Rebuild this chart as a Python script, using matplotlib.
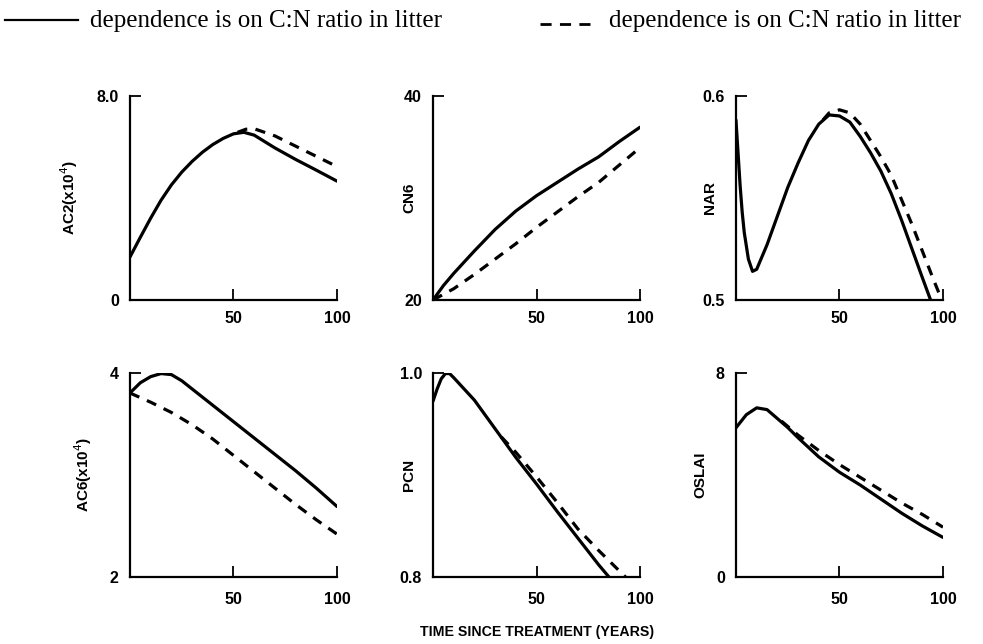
"""Six-panel response of stand variables to time since treatment.

Solid lines and dashed lines compare the two litter C:N formulations.
"""

import matplotlib.pyplot as plt

TICK_FONT = {"family": "Liberation Sans", "size": 11.5, "weight": "bold"}
LEGEND_FONT = {"family": "Liberation Serif", "size": 18}

# AC2 (x10^4)
ac2_solid_x = [0, 5, 10, 15, 20, 25, 30, 35, 40, 45, 50, 55, 60, 70, 80, 90, 100]
ac2_solid_y = [1.68, 2.45, 3.2, 3.9, 4.5, 5.0, 5.42, 5.78, 6.08, 6.32, 6.5,
               6.56, 6.45, 5.95, 5.5, 5.08, 4.65]
ac2_dash_x = [52, 56, 60, 70, 80, 90, 100]
ac2_dash_y = [6.56, 6.68, 6.7, 6.42, 6.02, 5.62, 5.22]

# CN6
cn6_solid_x = [0, 5, 10, 20, 30, 40, 50, 60, 70, 80, 90, 100]
cn6_solid_y = [20.0, 21.4, 22.6, 24.8, 26.9, 28.7, 30.2, 31.5, 32.8, 34.0, 35.5, 36.9]
cn6_dash_x = [0, 10, 20, 30, 40, 50, 60, 70, 80, 90, 100]
cn6_dash_y = [20.0, 21.1, 22.5, 24.0, 25.5, 27.1, 28.6, 30.1, 31.5, 33.2, 34.9]

# NAR
nar_solid_x = [0, 1, 2, 3, 4, 6, 8, 10, 15, 20, 25, 30, 35, 40, 45, 50,
               55, 60, 65, 70, 75, 80, 85, 90, 94]
nar_solid_y = [0.588, 0.572, 0.556, 0.543, 0.533, 0.520, 0.514, 0.515, 0.527,
               0.541, 0.555, 0.567, 0.578, 0.586, 0.5905, 0.590, 0.587, 0.580,
               0.572, 0.563, 0.552, 0.539, 0.525, 0.511, 0.500]
nar_dash_x = [42, 45, 50, 55, 60, 65, 70, 75, 80, 85, 90, 95, 99]
nar_dash_y = [0.588, 0.5915, 0.593, 0.5915, 0.586, 0.578, 0.570, 0.561,
              0.549, 0.537, 0.524, 0.511, 0.501]

# AC6 (x10^4)
ac6_solid_x = [0, 5, 10, 15, 20, 25, 30, 40, 50, 60, 70, 80, 90, 100]
ac6_solid_y = [3.80, 3.90, 3.96, 3.99, 3.98, 3.92, 3.84, 3.68, 3.52, 3.36,
               3.20, 3.04, 2.87, 2.69]
ac6_dash_x = [0, 10, 20, 30, 40, 50, 60, 70, 80, 90, 100]
ac6_dash_y = [3.80, 3.71, 3.61, 3.49, 3.35, 3.19, 3.03, 2.87, 2.71, 2.56, 2.42]

# PCN
pcn_solid_x = [0, 2, 4, 6, 8, 10, 20, 30, 40, 50, 60, 70, 80, 85]
pcn_solid_y = [0.972, 0.984, 0.994, 0.999, 0.999, 0.995, 0.973, 0.945, 0.917,
               0.891, 0.864, 0.838, 0.812, 0.800]
pcn_dash_x = [33, 40, 50, 60, 70, 80, 90, 93]
pcn_dash_y = [0.937, 0.922, 0.898, 0.873, 0.847, 0.826, 0.806, 0.800]

# OSLAI
oslai_solid_x = [0, 5, 10, 15, 20, 25, 30, 40, 50, 60, 70, 80, 90, 100]
oslai_solid_y = [5.84, 6.35, 6.62, 6.55, 6.2, 5.85, 5.45, 4.7, 4.1, 3.6,
                 3.05, 2.5, 2.0, 1.55]
oslai_dash_x = [22, 30, 40, 50, 60, 70, 80, 90, 100]
oslai_dash_y = [6.1, 5.55, 4.95, 4.4, 3.9, 3.4, 2.9, 2.45, 1.95]

PANELS = [
    ("AC2(x10$^4$)", (ac2_solid_x, ac2_solid_y), (ac2_dash_x, ac2_dash_y),
     (0, 8), ["0", "8.0"], -0.24),
    ("CN6", (cn6_solid_x, cn6_solid_y), (cn6_dash_x, cn6_dash_y),
     (20, 40), ["20", "40"], -0.08),
    ("NAR", (nar_solid_x, nar_solid_y), (nar_dash_x, nar_dash_y),
     (0.5, 0.6), ["0.5", "0.6"], -0.09),
    ("AC6(x10$^4$)", (ac6_solid_x, ac6_solid_y), (ac6_dash_x, ac6_dash_y),
     (2, 4), ["2", "4"], -0.175),
    ("PCN", (pcn_solid_x, pcn_solid_y), (pcn_dash_x, pcn_dash_y),
     (0.8, 1.0), ["0.8", "1.0"], -0.08),
    ("OSLAI", (oslai_solid_x, oslai_solid_y), (oslai_dash_x, oslai_dash_y),
     (0, 8), ["0", "8"], -0.14),
]

COL_LEFT = [0.1322, 0.4405, 0.7487]
ROW_BOTTOM = [0.5342, 0.1040]
AX_W = 0.2106
AX_H = 0.3175
XTICK_PAD = [8, 11]


def draw_panel(ax, label, solid, dashed, ylim, ylabels, label_x, xpad):
    ax.plot(*dashed, color="black", lw=2.3, ls=(0, (3.2, 2.6)),
            solid_capstyle="butt", dash_capstyle="butt")
    ax.plot(*solid, color="black", lw=2.3, solid_capstyle="round",
            solid_joinstyle="round")

    ax.set_xlim(0, 100)
    ax.set_ylim(*ylim)
    ax.set_xticks([50, 100])
    ax.set_xticklabels(["50", "100"], fontdict=TICK_FONT)
    ax.set_yticks(list(ylim))
    ax.set_yticklabels(ylabels, fontdict=TICK_FONT)
    ax.tick_params(axis="x", direction="in", length=8, width=1.3, pad=xpad)
    ax.tick_params(axis="y", direction="in", length=8, width=1.3, pad=8)

    for side in ("top", "right"):
        ax.spines[side].set_visible(False)
    for side in ("left", "bottom"):
        ax.spines[side].set_linewidth(1.6)

    ax.set_ylabel(label, fontsize=11, fontweight="bold",
                  fontfamily="Liberation Sans")
    ax.yaxis.set_label_coords(label_x, 0.5)


def main():
    fig = plt.figure(figsize=(9.83, 6.44), dpi=100)

    for i, (label, solid, dashed, ylim, ylabels, label_x) in enumerate(PANELS):
        row, col = divmod(i, 3)
        ax = fig.add_axes([COL_LEFT[col], ROW_BOTTOM[row], AX_W, AX_H])
        draw_panel(ax, label, solid, dashed, ylim, ylabels, label_x,
                   XTICK_PAD[row])

    # key along the top edge
    key = fig.add_axes([0, 0, 1, 1], facecolor="none")
    key.set_xlim(0, 983)
    key.set_ylim(644, 0)
    key.axis("off")
    key.plot([5, 78], [20, 20], color="black", lw=1.6)
    key.text(90, 21, "dependence is on C:N ratio in litter",
             va="center", ha="left", **LEGEND_FONT)
    key.plot([540, 597], [24, 24], color="black", lw=2.0,
             ls=(0, (4, 3)), dash_capstyle="butt")
    key.text(609, 21, "dependence is on C:N ratio in litter",
             va="center", ha="left", **LEGEND_FONT)

    fig.text(537 / 983, 1 - 632 / 644, "TIME SINCE TREATMENT (YEARS)",
             ha="center", va="center", fontsize=10.2, fontweight="bold",
             fontfamily="Liberation Sans")

    fig.savefig("out.png", dpi=100)


if __name__ == "__main__":
    main()
